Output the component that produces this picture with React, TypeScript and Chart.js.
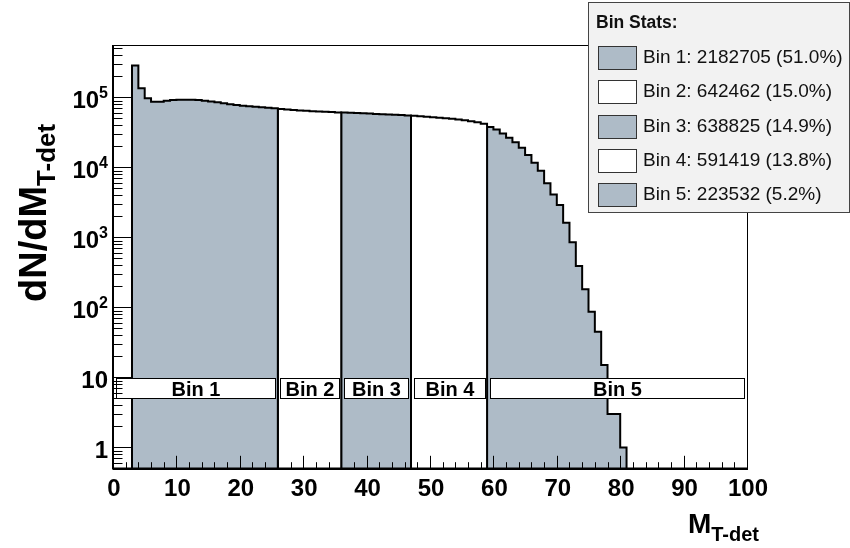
import React, { useEffect, useRef } from 'react';
import { Chart, registerables } from 'chart.js';

Chart.register(...registerables);

// ---- data -------------------------------------------------------------
// Lower edges of the five M_T-det ranges (unit-width histogram bins).
const binEdges = [3, 26, 36, 47, 59, 81];
const binNames = ['Bin 1', 'Bin 2', 'Bin 3', 'Bin 4', 'Bin 5'];

// Per-bin counts inside each range, one entry per unit bin.
const bin1Counts = [286000, 135000, 97100, 86800, 86800, 89700, 91800, 92700, 92805, 92600, 91800, 89700, 87400, 85100, 82400, 79900, 77900, 76100, 74600, 73400, 72200, 71000, 69900];
const bin2Counts = [68200, 67100, 66100, 65200, 64400, 63600, 62800, 62300, 61700, 61062];
const bin3Counts = [61000, 60400, 59800, 59200, 58650, 58050, 57500, 56950, 56350, 55820, 55105];
const bin4Counts = [54600, 53900, 53000, 52150, 51300, 50300, 49330, 48210, 46970, 45610, 44000, 42049];
const bin5Counts = [37900, 34800, 30494, 26570, 22840, 19120, 15040, 11670, 8970, 5930, 4100, 2900, 1622, 851, 390, 181, 87, 45, 15, 3, 3, 1];

const xTickLabels = ['0', '10', '20', '30', '40', '50', '60', '70', '80', '90', '100'];
const yDecadeExponents = [0, 1, 2, 3, 4, 5];

// ---- styling ------------------------------------------------------------
const FONT = '"Liberation Sans", Arial, Helvetica, sans-serif';
const FILL_SHADED = 'rgb(174,187,199)';
const FILL_CLEAR = '#ffffff';
const X_MIN = 0;
const X_MAX = 100;
const Y_MIN = 0.5;
const Y_MAX = 5.6e5;

const groups = [bin1Counts, bin2Counts, bin3Counts, bin4Counts, bin5Counts];

const sum = (a: number[]) => a.reduce((s, v) => s + v, 0);

const framePlugin = {
  id: 'rootFrame',
  afterDatasetsDraw(chart: any) {
    const { ctx, chartArea: a, scales } = chart;
    const xs = scales.x;
    const ys = scales.y;
    ctx.save();

    // range label boxes
    ctx.font = `bold 20px ${FONT}`;
    ctx.textAlign = 'center';
    ctx.textBaseline = 'alphabetic';
    const boxTop = ys.getPixelForValue(9.8);
    const boxBot = ys.getPixelForValue(5.1);
    binNames.forEach((name, i) => {
      const lo = i === 0 ? X_MIN : binEdges[i];
      const hi = i === binNames.length - 1 ? X_MAX : binEdges[i + 1];
      const x0 = Math.round(xs.getPixelForValue(lo + 0.4)) + 0.5;
      const x1 = Math.round(xs.getPixelForValue(hi - 0.4)) + 0.5;
      const y0 = Math.round(boxTop) + 0.5;
      const y1 = Math.round(boxBot) + 0.5;
      ctx.fillStyle = '#fff';
      ctx.fillRect(x0, y0, x1 - x0, y1 - y0);
      ctx.strokeStyle = '#000';
      ctx.lineWidth = 1;
      ctx.strokeRect(x0, y0, x1 - x0, y1 - y0);
      ctx.fillStyle = '#000';
      ctx.fillText(name, (x0 + x1) / 2, y1 - 3);
    });

    // frame
    ctx.strokeStyle = '#000';
    ctx.lineWidth = 1;
    ctx.strokeRect(Math.round(a.left) + 0.5, Math.round(a.top) + 0.5, Math.round(a.right - a.left), Math.round(a.bottom - a.top));
    ctx.lineWidth = 2;
    ctx.beginPath();
    ctx.moveTo(a.left, a.top);
    ctx.lineTo(a.left, a.bottom);
    ctx.lineTo(a.right, a.bottom);
    ctx.stroke();

    // x ticks (inside, pointing up)
    ctx.lineWidth = 1;
    ctx.beginPath();
    for (let v = X_MIN; v <= X_MAX; v += 2) {
      const px = Math.round(xs.getPixelForValue(v)) + 0.5;
      const len = v % 10 === 0 ? 12.7 : 6.3;
      ctx.moveTo(px, a.bottom);
      ctx.lineTo(px, a.bottom - len);
    }
    // y ticks (inside, pointing right)
    for (let k = -1; k <= 5; k++) {
      for (let m = 1; m <= 9; m++) {
        const v = m * Math.pow(10, k);
        if (v < Y_MIN || v > Y_MAX) continue;
        const py = Math.round(ys.getPixelForValue(v)) + 0.5;
        const len = m === 1 ? 19 : 9.5;
        ctx.moveTo(a.left, py);
        ctx.lineTo(a.left + len, py);
      }
    }
    ctx.stroke();

    // x tick labels
    ctx.fillStyle = '#000';
    ctx.font = `bold 24px ${FONT}`;
    ctx.textAlign = 'center';
    ctx.textBaseline = 'alphabetic';
    xTickLabels.forEach((t, i) => {
      const px = xs.getPixelForValue(i * 10);
      ctx.fillText(t, px + 1, a.bottom + 27);
    });

    // y tick labels: 1, 10, 10^2 ...
    const labelRight = a.left - 5;
    yDecadeExponents.forEach((k) => {
      const py = ys.getPixelForValue(Math.pow(10, k));
      const base = py + 11;
      ctx.textAlign = 'right';
      if (k === 0 || k === 1) {
        ctx.font = `bold 24px ${FONT}`;
        ctx.fillText(k === 0 ? '1' : '10', labelRight, base);
      } else {
        ctx.font = `bold 16px ${FONT}`;
        const sup = String(k);
        const w = ctx.measureText(sup).width;
        ctx.fillText(sup, labelRight, base - 10);
        ctx.font = `bold 24px ${FONT}`;
        ctx.fillText('10', labelRight - w, base);
      }
    });

    // x axis title
    ctx.textAlign = 'left';
    ctx.font = `bold 28px ${FONT}`;
    const mW = ctx.measureText('M').width;
    ctx.font = `bold 20px ${FONT}`;
    const subW = ctx.measureText('T-det').width;
    const xtEnd = a.right + 12;
    ctx.font = `bold 28px ${FONT}`;
    ctx.fillText('M', xtEnd - subW - mW, 533);
    ctx.font = `bold 20px ${FONT}`;
    ctx.fillText('T-det', xtEnd - subW, 541);

    // y axis title (rotated)
    ctx.save();
    ctx.translate(46, 302);
    ctx.rotate(-Math.PI / 2);
    ctx.font = `bold 38px ${FONT}`;
    ctx.fillText('dN/dM', 0, 0);
    const dW = ctx.measureText('dN/dM').width;
    ctx.font = `bold 26px ${FONT}`;
    ctx.fillText('T-det', dW, 9);
    ctx.restore();

    // statistics box
    const lx = 588.5, ly = 2.5, lw = 261, lh = 210;
    ctx.fillStyle = '#f2f2f2';
    ctx.fillRect(lx, ly, lw, lh);
    ctx.strokeStyle = '#444';
    ctx.lineWidth = 1;
    ctx.strokeRect(lx, ly, lw, lh);
    ctx.fillStyle = '#111';
    ctx.font = `bold 17.5px ${FONT}`;
    ctx.textAlign = 'left';
    ctx.fillText('Bin Stats:', 596, 28);
    const total = sum(groups.map(sum));
    ctx.font = `19px ${FONT}`;
    groups.forEach((g, i) => {
      const cy = 57 + i * 34.3;
      ctx.fillStyle = i % 2 === 0 ? FILL_SHADED : FILL_CLEAR;
      ctx.fillRect(598.5, Math.round(cy - 11) + 0.5, 38, 23);
      ctx.strokeStyle = '#333';
      ctx.strokeRect(598.5, Math.round(cy - 11) + 0.5, 38, 23);
      const s = sum(g);
      ctx.fillStyle = '#111';
      ctx.fillText(`${binNames[i]}: ${s} (${((100 * s) / total).toFixed(1)}%)`, 643, cy + 6);
    });

    ctx.restore();
  },
};

export default function App() {
  const ref = useRef<HTMLCanvasElement>(null);

  useEffect(() => {
    if (!ref.current) return;
    // each range is a stepped outline: up from the floor, across its bins, back down
    const datasets = groups.map((counts, g) => {
      const lo = binEdges[g];
      const hi = binEdges[g + 1];
      const pts = [
        { x: lo, y: Y_MIN },
        ...counts.map((c, i) => ({ x: lo + i, y: c })),
        { x: hi, y: Y_MIN },
      ];
      return {
        label: binNames[g],
        data: pts,
        stepped: 'before' as const,
        fill: 'start',
        backgroundColor: g % 2 === 0 ? FILL_SHADED : FILL_CLEAR,
        borderColor: '#000',
        borderWidth: 2,
        pointRadius: 0,
      };
    });

    const chart = new Chart(ref.current, {
      type: 'line',
      data: { datasets: datasets as any },
      options: {
        responsive: false,
        animation: false,
        devicePixelRatio: 1,
        layout: { padding: { left: 113, right: 103, top: 45, bottom: 79.5 } },
        plugins: { legend: { display: false }, tooltip: { enabled: false } },
        scales: {
          x: { type: 'linear', min: X_MIN, max: X_MAX, display: false },
          y: { type: 'logarithmic', min: Y_MIN, max: Y_MAX, display: false },
        },
      },
      plugins: [framePlugin],
    });
    return () => chart.destroy();
  }, []);

  return (
    <div style={{ position: 'fixed', left: 0, top: 0, width: 850, height: 548, background: '#fff' }}>
      <canvas ref={ref} width={850} height={548} style={{ display: 'block' }} />
    </div>
  );
}
